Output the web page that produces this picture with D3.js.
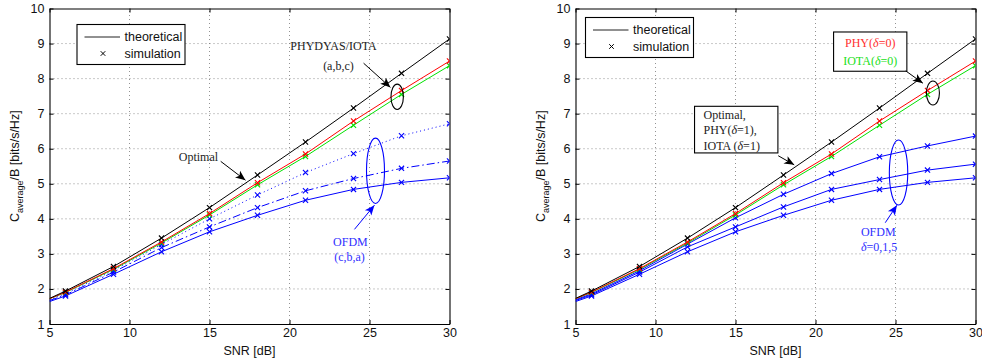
<!DOCTYPE html>
<html>
<head>
<meta charset="utf-8">
<script src="https://cdn.jsdelivr.net/npm/d3@7"></script>
<style>
  body { margin: 0; background: #fff; }
  svg { display: block; }
</style>
</head>
<body>
<svg id="chart" width="982" height="360"></svg>
<script>
// ---------------- data ----------------
const snr = [5, 6, 9, 12, 15, 18, 21, 24, 27, 30];
const xTicks = [5, 10, 15, 20, 25, 30];
const yTicks = [1, 2, 3, 4, 5, 6, 7, 8, 9, 10];

const optimal = [1.73, 1.94, 2.64, 3.45, 4.32, 5.25, 6.19, 7.16, 8.15, 9.13];
const phydyas = [1.72, 1.91, 2.58, 3.34, 4.15, 5.03, 5.85, 6.79, 7.66, 8.50];
const iota    = [1.72, 1.90, 2.56, 3.31, 4.11, 4.97, 5.78, 6.67, 7.55, 8.37];
const ofdmA   = [1.64, 1.80, 2.42, 3.06, 3.63, 4.10, 4.53, 4.84, 5.04, 5.17];
const ofdmB   = [1.67, 1.83, 2.48, 3.18, 3.77, 4.32, 4.80, 5.15, 5.44, 5.65];
const ofdmC   = [1.69, 1.86, 2.53, 3.27, 4.00, 4.68, 5.32, 5.86, 6.37, 6.71];
// right panel OFDM curves
const ofdmD0  = [1.69, 1.86, 2.52, 3.28, 4.03, 4.70, 5.29, 5.77, 6.08, 6.36];
const ofdmD1  = [1.67, 1.83, 2.48, 3.20, 3.77, 4.34, 4.84, 5.12, 5.39, 5.56];
const ofdmD5  = [1.64, 1.80, 2.42, 3.06, 3.63, 4.10, 4.53, 4.84, 5.04, 5.17];

const xLabel = "SNR [dB]";
const legendLabels = ["theoretical", "simulation"];

// ---------------- drawing ----------------
const svg = d3.select("#chart");
const serif = "'Liberation Serif','DejaVu Serif',serif";
const sans = "'Liberation Sans',Arial,sans-serif";

const defs = svg.append("defs");
function arrowMarker(id, color) {
  defs.append("marker").attr("id", id)
    .attr("viewBox", "0 0 10 10").attr("refX", 10).attr("refY", 5)
    .attr("markerWidth", 10).attr("markerHeight", 10)
    .attr("markerUnits", "userSpaceOnUse")
    .attr("orient", "auto")
    .append("path").attr("d", "M0,0.8 L10,5 L0,9.2 L2.5,5 Z").attr("fill", color);
}
arrowMarker("arrK", "#000");
arrowMarker("arrB", "#0000ff");

function panel(cfg) {
  const x = d3.scaleLinear().domain([5, 30]).range([cfg.left, cfg.left + 400]);
  const y = d3.scaleLinear().domain([1, 10]).range([324, 8.5]);
  const g = svg.append("g");

  // grid
  g.append("g").selectAll("line").data(xTicks.slice(1, -1)).join("line")
    .attr("x1", d => x(d)).attr("x2", d => x(d)).attr("y1", y(1)).attr("y2", y(10))
    .attr("stroke", "#777").attr("stroke-width", 0.8).attr("stroke-dasharray", "1,3");
  g.append("g").selectAll("line").data(yTicks.slice(1, -1)).join("line")
    .attr("y1", d => y(d)).attr("y2", d => y(d)).attr("x1", x(5)).attr("x2", x(30))
    .attr("stroke", "#777").attr("stroke-width", 0.8).attr("stroke-dasharray", "1,3");

  // axes (ticks inward on all sides)
  const axB = g.append("g").attr("transform", `translate(0,${y(1)})`)
    .call(d3.axisBottom(x).tickValues(xTicks).tickSizeInner(-4).tickSizeOuter(0).tickPadding(4));
  const axT = g.append("g").attr("transform", `translate(0,${y(10)})`)
    .call(d3.axisTop(x).tickValues(xTicks).tickSizeInner(-4).tickSizeOuter(0).tickFormat(""));
  const axL = g.append("g").attr("transform", `translate(${x(5)},0)`)
    .call(d3.axisLeft(y).tickValues(yTicks).tickSizeInner(-4).tickSizeOuter(0).tickPadding(5));
  const axR = g.append("g").attr("transform", `translate(${x(30)},0)`)
    .call(d3.axisRight(y).tickValues(yTicks).tickSizeInner(-4).tickSizeOuter(0).tickFormat(""));
  [axB, axT, axL, axR].forEach(a => {
    a.select(".domain").attr("stroke", "#000").attr("stroke-width", 1.1);
    a.selectAll(".tick line").attr("stroke", "#000");
    a.selectAll("text").attr("font-family", sans).attr("font-size", 12.5).attr("fill", "#111");
  });
  axB.selectAll("text").attr("dy", "0.71em");

  // axis labels
  g.append("text").attr("x", (x(5) + x(30)) / 2).attr("y", 355)
    .attr("text-anchor", "middle").attr("font-family", sans).attr("font-size", 12.5)
    .attr("fill", "#111").text(xLabel);
  const yl = g.append("text")
    .attr("transform", `translate(${cfg.left - 31},${(y(1) + y(10)) / 2}) rotate(-90)`)
    .attr("text-anchor", "middle").attr("font-family", sans).attr("font-size", 12.5).attr("fill", "#111");
  yl.append("tspan").text("C");
  yl.append("tspan").attr("font-size", 9).attr("dy", 4).text("average");
  yl.append("tspan").attr("dy", -4).text("/B [bits/s/Hz]");

  // clip
  const clipId = "clip" + cfg.left;
  defs.append("clipPath").attr("id", clipId).append("rect")
    .attr("x", x(5)).attr("y", y(10)).attr("width", x(30) - x(5)).attr("height", y(1) - y(10));
  const plot = g.append("g").attr("clip-path", `url(#${clipId})`);

  const line = d3.line().x((d, i) => x(snr[i])).y(d => y(d));
  cfg.series.forEach(s => {
    plot.append("path").datum(s.values).attr("d", line)
      .attr("fill", "none").attr("stroke", s.color).attr("stroke-width", 1)
      .attr("stroke-dasharray", s.dash || null);
    plot.append("g").selectAll("path").data(s.values.slice(1)).join("path")
      .attr("transform", (d, i) => `translate(${x(snr[i + 1])},${y(d)})`)
      .attr("d", "M-2.6,-2.6L2.6,2.6M-2.6,2.6L2.6,-2.6")
      .attr("stroke", s.color).attr("stroke-width", 1.1);
  });

  // legend
  const L = cfg.legend;
  const lg = g.append("g").attr("transform", `translate(${cfg.left + L.dx},${8.5 + L.dy})`);
  lg.append("rect").attr("width", 108).attr("height", 40).attr("fill", "#fff")
    .attr("stroke", "#000").attr("stroke-width", 1.1);
  lg.append("line").attr("x1", 7.5).attr("x2", 43).attr("y1", 12.5).attr("y2", 12.5)
    .attr("stroke", "#222").attr("stroke-width", 1);
  lg.append("path").attr("transform", "translate(26,29)")
    .attr("d", "M-2.3,-2.3L2.3,2.3M-2.3,2.3L2.3,-2.3").attr("stroke", "#000");
  lg.selectAll("text").data(legendLabels).join("text")
    .attr("x", 47.5).attr("y", (d, i) => 12.5 + i * 16.5).attr("dy", "0.35em")
    .attr("font-family", sans).attr("font-size", 12.5).attr("fill", "#111").text(d => d);

  return { g, x, y };
}

function arrow(g, x, y, a, color, id) {
  g.append("line").attr("x1", x(a[0])).attr("y1", y(a[1])).attr("x2", x(a[2])).attr("y2", y(a[3]))
    .attr("stroke", color).attr("stroke-width", 1).attr("marker-end", `url(#${id})`);
}
function ellipse(g, x, y, c, rx, ry, color) {
  g.append("ellipse").attr("cx", x(c[0])).attr("cy", y(c[1])).attr("rx", rx).attr("ry", ry)
    .attr("fill", "none").attr("stroke", color).attr("stroke-width", 1.1);
}
// text with optional italic δ segments: parts = array of [string, italic?]
function label(g, x, y, p, txt, color, anchor) {
  const t = g.append("text").attr("x", x(p[0])).attr("y", y(p[1])).attr("dy", "0.35em")
    .attr("text-anchor", anchor || "middle").attr("font-family", serif).attr("font-size", 12)
    .attr("fill", color);
  txt.split(/(δ)/).forEach(s => {
    if (!s) return;
    const ts = t.append("tspan").text(s);
    if (s === "δ") ts.attr("font-style", "italic");
  });
  return t;
}

// ---------- left panel ----------
const P1 = panel({
  left: 49.5,
  legend: { dx: 27.5, dy: 16 },
  series: [
    { values: ofdmC, color: "#0000ff", dash: "1,3" },
    { values: ofdmB, color: "#0000ff", dash: "8,3,1.5,3" },
    { values: ofdmA, color: "#0000ff" },
    { values: iota, color: "#00e000" },
    { values: phydyas, color: "#ff0000" },
    { values: optimal, color: "#000000" }
  ]
});
label(P1.g, P1.x, P1.y, [22.75, 8.95], "PHYDYAS/IOTA", "#222");
label(P1.g, P1.x, P1.y, [23.06, 8.36], "(a,b,c)", "#222");
arrow(P1.g, P1.x, P1.y, [24.63, 8.44, 26.31, 7.75], "#000", "arrK");
ellipse(P1.g, P1.x, P1.y, [26.73, 7.48], 6.2, 12.7, "#000");
label(P1.g, P1.x, P1.y, [14.31, 5.76], "Optimal", "#222");
arrow(P1.g, P1.x, P1.y, [15.7, 5.64, 17.25, 5.1], "#000", "arrK");
ellipse(P1.g, P1.x, P1.y, [25.375, 5.37], 9, 32.7, "#0000ff");
arrow(P1.g, P1.x, P1.y, [24.06, 3.70, 25.31, 4.39], "#0000ff", "arrB");
label(P1.g, P1.x, P1.y, [23.81, 3.34], "OFDM", "#3030ff");
label(P1.g, P1.x, P1.y, [23.75, 2.91], "(c,b,a)", "#3030ff");

// ---------- right panel ----------
const P2 = panel({
  left: 575.5,
  legend: { dx: 10, dy: 9 },
  series: [
    { values: ofdmD0, color: "#0000ff" },
    { values: ofdmD1, color: "#0000ff" },
    { values: ofdmD5, color: "#0000ff" },
    { values: iota, color: "#00e000" },
    { values: phydyas, color: "#ff0000" },
    { values: optimal, color: "#000000" }
  ]
});
{
  const { g, x, y } = P2;
  g.append("rect").attr("x", x(12.44)).attr("y", y(7.21))
    .attr("width", x(17.65) - x(12.44)).attr("height", y(5.88) - y(7.21))
    .attr("fill", "#fff").attr("stroke", "#000").attr("stroke-width", 1.1);
  label(g, x, y, [13.0, 6.96], "Optimal,", "#222", "start");
  label(g, x, y, [13.0, 6.53], "PHY(δ=1),", "#222", "start");
  label(g, x, y, [13.0, 6.09], "IOTA (δ=1)", "#222", "start");
  arrow(g, x, y, [17.67, 5.80, 18.67, 5.54], "#000", "arrK");

  g.append("rect").attr("x", x(21.13)).attr("y", y(9.33))
    .attr("width", x(25.71) - x(21.13)).attr("height", y(8.21) - y(9.33))
    .attr("fill", "#fff").attr("stroke", "#000").attr("stroke-width", 1.1);
  label(g, x, y, [23.42, 9.02], "PHY(δ=0)", "#ff3030");
  label(g, x, y, [23.42, 8.52], "IOTA(δ=0)", "#20e020");
  arrow(g, x, y, [25.64, 8.22, 26.71, 7.87], "#000", "arrK");
  ellipse(g, x, y, [27.34, 7.59], 6.5, 12, "#000");

  ellipse(g, x, y, [25.19, 5.32], 9.2, 32.5, "#0000ff");
  arrow(g, x, y, [24.36, 3.89, 25.09, 4.39], "#0000ff", "arrB");
  label(g, x, y, [22.84, 3.63], "OFDM", "#3030ff", "start");
  label(g, x, y, [22.84, 3.19], "δ=0,1,5", "#3030ff", "start");
}
</script>
</body>
</html>
